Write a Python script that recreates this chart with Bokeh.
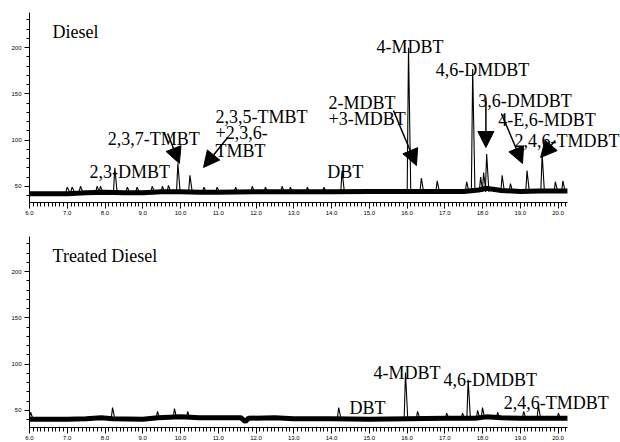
from bokeh.plotting import figure
from bokeh.layouts import column
from bokeh.models import (Range1d, FixedTicker, PrintfTickFormatter, Label,
                          Arrow, NormalHead)
from bokeh.embed import file_html
from bokeh.resources import INLINE

# ---------------- data ----------------
# retention time (min) ticks
x_ticks = [6, 7, 8, 9, 10, 11, 12, 13, 14, 15, 16, 17, 18, 19, 20]
y_ticks = [50, 100, 150, 200]

# Diesel: baseline level
diesel_base_t = [6.0, 7.0, 7.5, 8.0, 8.5, 9.0, 9.5, 10.0, 10.5, 11.0, 12.0, 13.0,
                 14.0, 15.0, 16.0, 17.0, 17.5, 17.9, 18.1, 18.5, 19.0, 19.5, 20.25]
diesel_base_v = [42, 42, 43, 43.5, 43, 43, 44, 44, 43.5, 43.5, 44, 44,
                 44, 44.5, 44.5, 44.5, 44.5, 46, 48, 45.5, 44.5, 45, 45]
# Diesel: peaks (apex time, apex intensity)
diesel_peak_t = [7.0, 7.13, 7.35, 7.79, 7.88, 8.26, 8.59, 8.85, 9.25, 9.52, 9.68,
                 9.93, 10.25, 10.62, 10.97, 11.46, 11.9, 12.25, 12.69, 12.91, 13.36,
                 13.8, 14.28, 16.04, 16.38, 16.8, 17.58, 17.74, 17.95, 18.03, 18.11,
                 18.52, 18.74, 19.18, 19.58, 19.93, 20.13]
diesel_peak_h = [49, 49, 50, 50, 50, 70, 49, 49, 50, 50, 51,
                 75, 62, 49, 49, 49, 50, 49, 50, 49, 49,
                 49, 67, 200, 59, 56, 55, 177, 60, 65, 85,
                 62, 53, 67, 85, 55, 56]
diesel_names = ["2,3-DMBT", "2,3,7-TMBT", "2,3,5-TMBT", "+2,3,6-", "TMBT", "DBT",
                "2-MDBT", "+3-MDBT", "4-MDBT", "4,6-DMDBT", "3,6-DMDBT",
                "4-E,6-MDBT", "2,4,6-TMDBT"]

# Treated diesel
treated_base_t = [6.0, 7.0, 7.5, 7.9, 8.2, 9.0, 9.4, 10.0, 10.5, 11.0, 11.6, 11.72,
                  11.8, 12.5, 13.0, 14.0, 15.0, 16.0, 17.0, 17.8, 18.1, 18.5, 19.0, 20.25]
treated_base_v = [40.5, 40.5, 41, 42, 41, 40.5, 42, 43, 42, 42, 42, 38,
                  41.5, 42, 41, 41, 40.5, 41, 41.5, 41.5, 43, 42, 41.5, 41.5]
treated_peak_t = [6.03, 8.2, 9.39, 9.84, 10.19, 14.19, 15.96, 16.28, 17.05, 17.47,
                  17.62, 17.87, 18.0, 18.4, 19.09, 19.48, 20.01]
treated_peak_h = [48, 53, 49, 52, 49, 53, 91, 49, 47, 47,
                  83, 50, 53, 48, 49, 55, 47]
treated_names = ["DBT", "4-MDBT", "4,6-DMDBT", "2,4,6-TMDBT"]

SERIF = "Liberation Serif"
SANS = "Liberation Sans"
X_END = 6.0 + 591 / 37.75   # frame extends to page edge; axis stops at 20.25


def make_panel(height, border_top, border_bottom, y_lo, base_t, base_v, peak_t, peak_h, base_level):
    p = figure(width=620, height=height, output_backend="svg", toolbar_location=None,
               x_range=Range1d(6.0, X_END), y_range=Range1d(y_lo, 238),
               min_border_left=29, min_border_right=0,
               min_border_top=border_top, min_border_bottom=border_bottom)
    p.outline_line_color = None
    p.xgrid.grid_line_color = None
    p.ygrid.grid_line_color = None
    p.background_fill_color = "white"
    p.border_fill_color = "white"

    # baseline noise band
    p.line(base_t, base_v, line_color="black", line_width=5)
    # peaks
    xs = [[t - 0.035, t, t + 0.06] for t in peak_t]
    ys = [[base_level, h, base_level] for h in peak_h]
    p.multi_line(xs=xs, ys=ys, line_color="black", line_width=1.1)

    minor_x = [6 + i / 10 for i in range(0, 143) if i % 10 != 0]
    p.xaxis.ticker = FixedTicker(ticks=x_ticks, minor_ticks=minor_x)
    p.xaxis.formatter = PrintfTickFormatter(format="%.1f")
    p.xaxis.bounds = (6.0, 20.25)
    minor_y = [v for v in range(40, 240, 10) if v % 50 != 0]
    p.yaxis.ticker = FixedTicker(ticks=y_ticks, minor_ticks=minor_y)
    for ax in (p.xaxis[0], p.yaxis[0]):
        ax.axis_line_color = "black"
        ax.axis_line_width = 1
        ax.major_tick_line_color = "black"
        ax.minor_tick_line_color = "black"
        ax.major_tick_in = 0
        ax.minor_tick_in = 0
        ax.major_label_text_font = SANS
        ax.major_label_text_font_size = "6px"
        ax.major_label_text_color = "black"
    p.xaxis.major_tick_out = 6
    p.xaxis.minor_tick_out = 4
    p.xaxis.major_label_standoff = 2
    p.yaxis.major_tick_out = 5
    p.yaxis.minor_tick_out = 3
    p.yaxis.major_label_standoff = 3
    return p


def add_text(p, x, y, txt):
    p.add_layout(Label(x=x, y=y, text=txt, text_font=SERIF, text_font_size="18px",
                       text_color="black", text_align="left", text_baseline="alphabetic"))


def add_arrow(p, x0, y0, x1, y1):
    p.add_layout(Arrow(x_start=x0, y_start=y0, x_end=x1, y_end=y1, line_width=1.5,
                       line_color="black",
                       end=NormalHead(size=16, fill_color="black", line_color="black")))


# ---------------- top panel ----------------
p1 = make_panel(224, 12, 22, 32.5, diesel_base_t, diesel_base_v,
                diesel_peak_t, diesel_peak_h, 44)
add_text(p1, 6.61, 216.4, "Diesel")
text_pos_top = [(7.59, 66.0), (8.07, 101.7), (10.93, 125.5), (10.93, 108.2), (10.93, 88.7),
                (13.89, 66.0), (13.92, 139.6), (13.92, 123.3), (15.19, 201.2),
                (16.76, 175.3), (17.89, 142.8), (18.42, 121.2), (18.85, 98.5)]
for (x, y), name in zip(text_pos_top, diesel_names):
    add_text(p1, x, y, name)
add_arrow(p1, 9.66, 107.1, 9.97, 74.7)
add_arrow(p1, 11.25, 102.8, 10.61, 70.4)
add_arrow(p1, 15.64, 132.0, 16.25, 72.5)
add_arrow(p1, 18.09, 146.1, 18.09, 92.0)
add_arrow(p1, 18.50, 128.8, 19.06, 74.7)
add_arrow(p1, 19.93, 99.6, 19.54, 81.2)

# ---------------- bottom panel ----------------
p2 = make_panel(218, 12, 14, 31.5, treated_base_t, treated_base_v,
                treated_peak_t, treated_peak_h, 41)
add_text(p2, 6.61, 216.5, "Treated Diesel")
text_pos_bot = [(14.48, 53.0), (15.11, 90.7), (16.97, 83.1), (18.56, 58.4)]
for (x, y), name in zip(text_pos_bot, treated_names):
    add_text(p2, x, y, name)

layout = column(p1, p2, spacing=0)
open("out.html", "w").write(file_html(layout, INLINE))
